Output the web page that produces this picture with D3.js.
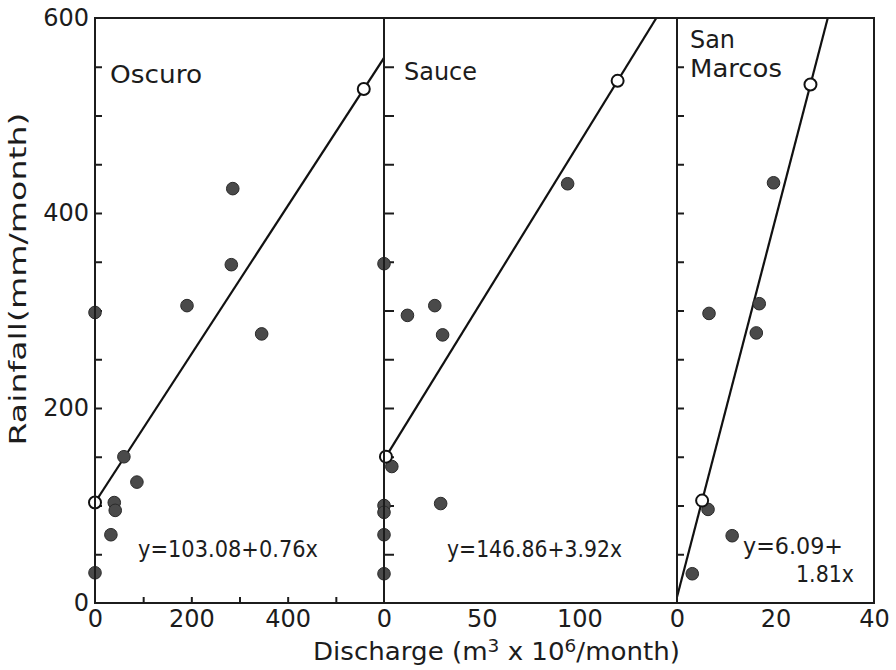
<!DOCTYPE html>
<html>
<head>
<meta charset="utf-8">
<script src="https://cdn.jsdelivr.net/npm/d3@7"></script>
<style>
  body { margin: 0; background: #fff; }
  text { font-family: "DejaVu Sans", sans-serif; fill: #1c1c1c; }
</style>
</head>
<body>
<svg id="chart" width="896" height="670"></svg>
<script>
// Rainfall vs discharge for three catchments, with fitted lines.
const panelNames = ["Oscuro", "Sauce", "San Marcos"];
const panelXMax = [600, 150, 40];
const panelXTickLabels = [[0, 200, 400], [0, 50, 100], [0, 20, 40]];
const panelXMinorTicks = [[100, 200, 300, 400, 500], [], []];
const rainfallLabelTicks = [0, 200, 400, 600];
const rainfallMinorTicks = [50, 100, 150, 200, 250, 300, 350, 400, 450, 500, 550];

// Monthly observations (discharge, rainfall)
const oscuroDischarge = [0, 0, 60, 87, 40, 42, 33, 191, 283, 346, 286];
const oscuroRainfall  = [298, 31, 150, 124, 103, 95, 70, 305, 347, 276, 425];
const sauceDischarge  = [4, 0, 0, 0, 0, 29, 0, 12, 26, 30, 94];
const sauceRainfall   = [140, 100, 93, 70, 30, 102, 348, 295, 305, 275, 430];
const sanMarcosDischarge = [6.5, 16.7, 16.1, 19.6, 6.3, 3.1, 11.2];
const sanMarcosRainfall  = [297, 307, 277, 431, 96, 30, 69];

// Fitted lines and the discharge range each fit covers (open circles)
const fitIntercepts = [103.08, 146.86, 6.09];
const fitSlopes = [0.76, 3.25, 19.4];
const fitRangeStart = [0, 1, 5.1];
const fitRangeEnd = [558, 119.6, 27.1];

// Regression equations, one array per panel (one entry per printed line)
const equationLines = [["y=103.08+0.76x"], ["y=146.86+3.92x"], ["y=6.09+", "1.81x"]];

const panelDischarge = [oscuroDischarge, sauceDischarge, sanMarcosDischarge];
const panelRainfall = [oscuroRainfall, sauceRainfall, sanMarcosRainfall];

const svg = d3.select("#chart");
const plotTop = 18, plotBottom = 603;
const panelPx = [[95, 384], [384, 677], [677, 874]];
const ink = "#1c1c1c";

const y = d3.scaleLinear().domain([0, 600]).range([plotBottom, plotTop]);
const xScales = panelPx.map((r, i) => d3.scaleLinear().domain([0, panelXMax[i]]).range(r));

const defs = svg.append("defs");
panelPx.forEach((r, i) => {
  defs.append("clipPath").attr("id", "clip" + i)
    .append("rect").attr("x", r[0]).attr("y", plotTop).attr("width", r[1] - r[0]).attr("height", plotBottom - plotTop);
});

// Y-axis labels on the left
const yLab = svg.append("g").attr("transform", `translate(${panelPx[0][0]},0)`)
  .call(d3.axisLeft(y).tickValues(rainfallLabelTicks).tickSize(0).tickPadding(6).tickFormat(d3.format("d")));
yLab.select(".domain").remove();
yLab.selectAll("text").attr("font-size", 24).attr("font-family", "DejaVu Sans").attr("fill", ink);

panelPx.forEach((r, i) => {
  const xs = xScales[i];
  // inward ticks on each panel's left edge
  const ya = svg.append("g").attr("transform", `translate(${r[0]},0)`)
    .call(d3.axisRight(y).tickValues(rainfallMinorTicks).tickSize(i === 1 ? 10 : 7).tickFormat(""));
  ya.select(".domain").remove();
  ya.selectAll("line").attr("stroke", ink).attr("stroke-width", 2);

  // x tick labels
  const xa = svg.append("g").attr("transform", `translate(0,${plotBottom})`)
    .call(d3.axisBottom(xs).tickValues(panelXTickLabels[i]).tickSize(0).tickPadding(7).tickFormat(d3.format("d")));
  xa.select(".domain").remove();
  xa.selectAll("text").attr("font-size", 24).attr("font-family", "DejaVu Sans").attr("fill", ink);

  if (panelXMinorTicks[i].length) {
    const xm = svg.append("g").attr("transform", `translate(0,${plotBottom})`)
      .call(d3.axisTop(xs).tickValues(panelXMinorTicks[i]).tickSize(6).tickFormat(""));
    xm.select(".domain").remove();
    xm.selectAll("line").attr("stroke", ink).attr("stroke-width", 2);
  }

  // fitted line
  const g = svg.append("g").attr("clip-path", `url(#clip${i})`);
  const fx = d => fitIntercepts[i] + fitSlopes[i] * d;
  const xStart = fitRangeStart[i] > 1 ? 0 : fitRangeStart[i];
  const xEnd = Math.min(panelXMax[i], (600 - fitIntercepts[i]) / fitSlopes[i]);
  g.append("line")
    .attr("x1", xs(xStart)).attr("y1", y(fx(xStart)))
    .attr("x2", xs(xEnd)).attr("y2", y(fx(xEnd)))
    .attr("stroke", "#111").attr("stroke-width", 2.2);

  // observations
  svg.append("g").selectAll("circle")
    .data(panelDischarge[i].map((d, k) => [d, panelRainfall[i][k]]))
    .join("circle")
    .attr("cx", d => xs(d[0])).attr("cy", d => y(d[1])).attr("r", 6.3)
    .attr("fill", "#4a4a4a").attr("stroke", "#2a2a2a").attr("stroke-width", 1);

  // ends of the fitted range
  svg.append("g").selectAll("circle")
    .data([fitRangeStart[i], fitRangeEnd[i]])
    .join("circle")
    .attr("cx", d => xs(d)).attr("cy", d => y(fx(d))).attr("r", 6)
    .attr("fill", "#fff").attr("stroke", "#111").attr("stroke-width", 2);
});

// frame and panel dividers
svg.append("rect").attr("x", panelPx[0][0]).attr("y", plotTop)
  .attr("width", panelPx[2][1] - panelPx[0][0]).attr("height", plotBottom - plotTop)
  .attr("fill", "none").attr("stroke", ink).attr("stroke-width", 2);
[panelPx[1][0], panelPx[2][0]].forEach(px => {
  svg.append("line").attr("x1", px).attr("x2", px).attr("y1", plotTop).attr("y2", plotBottom)
    .attr("stroke", ink).attr("stroke-width", 2);
});

// panel titles
const titleFont = 24;
const smParts = panelNames[2].split(" ");
[
  {t: panelNames[0], x: 110, y: 83, w: 92},
  {t: panelNames[1], x: 404, y: 80, w: 73},
  {t: smParts[0], x: 690, y: 48, w: 45},
  {t: smParts[1], x: 690, y: 77, w: 92}
].forEach(d => {
  svg.append("text").attr("x", d.x).attr("y", d.y).attr("font-size", titleFont)
    .attr("textLength", d.w).attr("lengthAdjust", "spacingAndGlyphs").text(d.t);
});

// fitted equations
const eqPos = [
  [{x: 138, y: 557, w: 180}],
  [{x: 447, y: 557, w: 175}],
  [{x: 743, y: 554, w: 100}, {x: 796, y: 582, w: 58}]
];
equationLines.forEach((lines, i) => {
  lines.forEach((s, k) => {
    const p = eqPos[i][k];
    svg.append("text").attr("x", p.x).attr("y", p.y).attr("font-size", 23)
      .attr("textLength", p.w).attr("lengthAdjust", "spacingAndGlyphs").text(s);
  });
});

// axis titles
svg.append("text")
  .attr("transform", "translate(26,279) rotate(-90)")
  .attr("text-anchor", "middle").attr("font-size", 23)
  .attr("textLength", 333).attr("lengthAdjust", "spacingAndGlyphs")
  .text("Rainfall(mm/month)");

const xt = svg.append("text").attr("x", 313).attr("y", 660).attr("font-size", 24)
  .attr("textLength", 367).attr("lengthAdjust", "spacingAndGlyphs");
xt.append("tspan").text("Discharge (m");
xt.append("tspan").attr("dy", -8).attr("font-size", 17).text("3");
xt.append("tspan").attr("dy", 8).text(" x 10");
xt.append("tspan").attr("dy", -8).attr("font-size", 17).text("6");
xt.append("tspan").attr("dy", 8).text("/month)");
</script>
</body>
</html>
